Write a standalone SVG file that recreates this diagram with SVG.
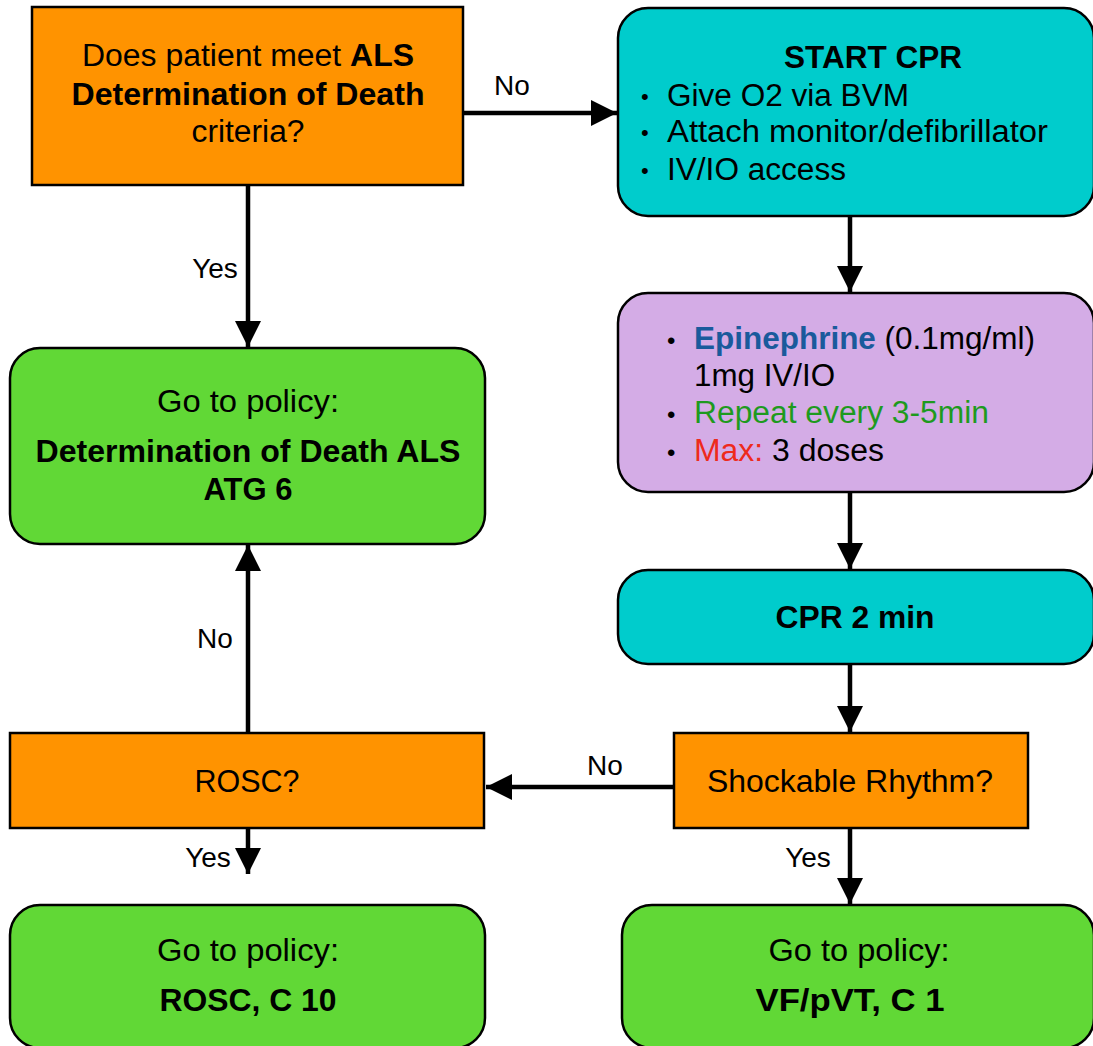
<svg xmlns="http://www.w3.org/2000/svg" width="1093" height="1046" viewBox="0 0 1093 1046">
<style>
text{font-family:"Liberation Sans",Arial,sans-serif;font-size:31px;fill:#000}
.b{font-weight:bold}
.m{text-anchor:middle}
.lbl{font-size:28px;text-anchor:middle}
.bul{font-size:22px}
.orange{fill:#FF9300;stroke:#000;stroke-width:2.5}
.teal{fill:#00CCCC;stroke:#000;stroke-width:2.5}
.purple{fill:#D4ACE6;stroke:#000;stroke-width:2.5}
.green{fill:#61D836;stroke:#000;stroke-width:2.5}
.conn line{stroke:#000;stroke-width:4.5}
</style>
<defs>
<marker id="ah" markerUnits="userSpaceOnUse" markerWidth="28" markerHeight="28" refX="26" refY="13" orient="auto" viewBox="0 0 28 28">
<path d="M0,0 L26,13 L0,26 Z" fill="#000"/>
</marker>
</defs>

<g id="n1">
<rect class="orange" x="32" y="7" width="431" height="178"/>
<text class="m" x="248" y="66" textLength="332" lengthAdjust="spacingAndGlyphs">Does patient meet <tspan class="b">ALS</tspan></text>
<text class="m b" x="248" y="105" textLength="353" lengthAdjust="spacingAndGlyphs">Determination of Death</text>
<text class="m" x="248" y="142" textLength="113" lengthAdjust="spacingAndGlyphs">criteria?</text>
</g>

<g id="n2">
<rect class="teal" x="618" y="8" width="476" height="208" rx="30"/>
<text class="m b" x="873" y="68" textLength="178" lengthAdjust="spacingAndGlyphs">START CPR</text>
<text class="bul" x="641" y="104">•</text>
<text x="667" y="106" textLength="242" lengthAdjust="spacingAndGlyphs">Give O2 via BVM</text>
<text class="bul" x="641" y="140">•</text>
<text x="667" y="142" textLength="381" lengthAdjust="spacingAndGlyphs">Attach monitor/defibrillator</text>
<text class="bul" x="641" y="178">•</text>
<text x="667" y="180" textLength="179" lengthAdjust="spacingAndGlyphs">IV/IO access</text>
</g>

<g id="n3">
<rect class="purple" x="618" y="293" width="476" height="199" rx="30"/>
<text x="667" y="349" style="font-size:24px">•</text>
<text x="694" y="349" textLength="341" lengthAdjust="spacingAndGlyphs"><tspan class="b" style="fill:#1A5A9C">Epinephrine</tspan> (0.1mg/ml)</text>
<text x="694" y="386" textLength="141" lengthAdjust="spacingAndGlyphs">1mg IV/IO</text>
<text x="667" y="423" style="font-size:24px">•</text>
<text x="694" y="423" style="fill:#1E9A1E" textLength="295" lengthAdjust="spacingAndGlyphs">Repeat every 3-5min</text>
<text x="667" y="461" style="font-size:24px">•</text>
<text x="694" y="461" textLength="190" lengthAdjust="spacingAndGlyphs"><tspan style="fill:#EE2A1C">Max:</tspan> 3 doses</text>
</g>

<g id="n4">
<rect class="teal" x="618" y="570" width="476" height="94" rx="30"/>
<text class="m b" x="855" y="628" textLength="159" lengthAdjust="spacingAndGlyphs">CPR 2 min</text>
</g>

<g id="n5">
<rect class="orange" x="674" y="733" width="354" height="95"/>
<text class="m" x="850" y="792" textLength="286" lengthAdjust="spacingAndGlyphs">Shockable Rhythm?</text>
</g>

<g id="n6">
<rect class="orange" x="10" y="733" width="474" height="95"/>
<text class="m" x="247" y="792" textLength="105" lengthAdjust="spacingAndGlyphs">ROSC?</text>
</g>

<g id="n7">
<rect class="green" x="10" y="348" width="475" height="196" rx="30"/>
<text class="m" x="248" y="412" textLength="182" lengthAdjust="spacingAndGlyphs">Go to policy:</text>
<text class="m b" x="248" y="462" textLength="425" lengthAdjust="spacingAndGlyphs">Determination of Death ALS</text>
<text class="m b" x="248" y="500" textLength="89" lengthAdjust="spacingAndGlyphs">ATG 6</text>
</g>

<g id="n8">
<rect class="green" x="10" y="905" width="475" height="143" rx="30"/>
<text class="m" x="248" y="961" textLength="182" lengthAdjust="spacingAndGlyphs">Go to policy:</text>
<text class="m b" x="248" y="1011" textLength="177" lengthAdjust="spacingAndGlyphs">ROSC, C 10</text>
</g>

<g id="n9">
<rect class="green" x="622" y="905" width="472" height="143" rx="30"/>
<text class="m" x="859" y="961" textLength="181" lengthAdjust="spacingAndGlyphs">Go to policy:</text>
<text class="m b" x="850" y="1011" textLength="189" lengthAdjust="spacingAndGlyphs">VF/pVT, C 1</text>
</g>

<g id="connectors" class="conn">
<line x1="463" y1="113" x2="617" y2="113" marker-end="url(#ah)"/>
<line x1="248" y1="185" x2="248" y2="347" marker-end="url(#ah)"/>
<line x1="850" y1="216" x2="850" y2="292" marker-end="url(#ah)"/>
<line x1="850" y1="492" x2="850" y2="569" marker-end="url(#ah)"/>
<line x1="850" y1="664" x2="850" y2="732" marker-end="url(#ah)"/>
<line x1="674" y1="787" x2="486" y2="787" marker-end="url(#ah)"/>
<line x1="248" y1="733" x2="248" y2="545" marker-end="url(#ah)"/>
<line x1="248" y1="828" x2="248" y2="874" marker-end="url(#ah)"/>
<line x1="850" y1="828" x2="850" y2="904" marker-end="url(#ah)"/>
<text class="lbl" x="512" y="95">No</text>
<text class="lbl" x="215" y="278">Yes</text>
<text class="lbl" x="215" y="648">No</text>
<text class="lbl" x="605" y="775">No</text>
<text class="lbl" x="208" y="867">Yes</text>
<text class="lbl" x="808" y="867">Yes</text>
</g>
</svg>
